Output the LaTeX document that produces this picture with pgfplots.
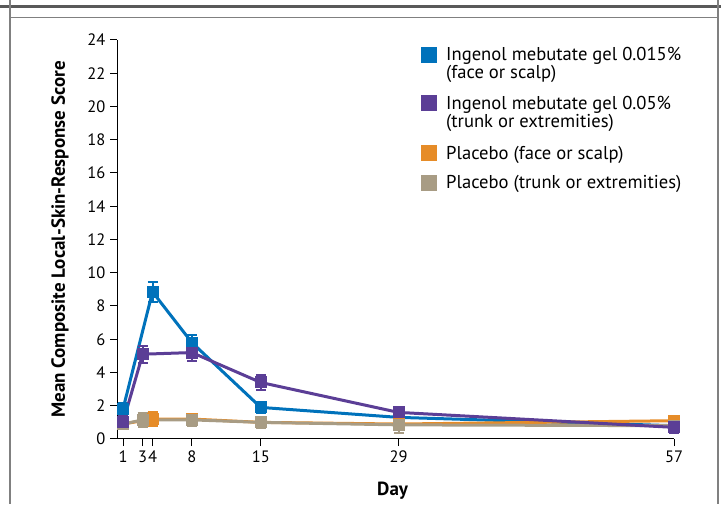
\documentclass[border=0pt]{standalone}
\usepackage{fontspec}
\setmainfont{PT Sans}
\usepackage{pgfplots}
\pgfplotsset{compat=1.18}
\definecolor{cblue}{HTML}{0072BB}
\definecolor{cpurple}{HTML}{5B3E96}
\definecolor{corange}{HTML}{E68C28}
\definecolor{ctan}{HTML}{A89C84}
\definecolor{frame}{HTML}{808080}
\begin{document}
\begin{tikzpicture}[x=1pt,y=1pt]
\useasboundingbox (0,0) rectangle (721,504);
\draw[line width=3pt, color=black!65] (0,497) -- (721,497);
\draw[line width=1.5pt, color=frame] (10,504) -- (10,486.5) -- (718,486.5) -- (718,504);
\draw[line width=1.5pt, color=frame] (10,486.5) -- (10,0);
\draw[line width=1.5pt, color=frame] (718,486.5) -- (718,0);
\begin{axis}[
  at={(117pt,65pt)}, anchor=south west,
  scale only axis, width=557pt, height=399pt,
  xmin=0.39, xmax=57, ymin=0, ymax=24,
  axis lines*=left,
  axis line style={line width=1pt, -},
  tick style={line width=1pt, black},
  tick align=outside,
  major tick length=7pt,
  xtick={1,3,4,8,15,29,57},
  ytick={0,2,...,24},
  /pgf/number format/assume math mode=true,
  ticklabel style={font=\fontsize{16.5}{19}\selectfont},
  xticklabel style={yshift=-1pt},
  yticklabel style={xshift=-1pt},
  xlabel={\textbf{Day}},
  ylabel={\textbf{Mean Composite Local-Skin-Response Score}},
  label style={font=\fontsize{19}{22}\selectfont, inner sep=0pt},
  xlabel style={at={(axis description cs:0.495,0)}, anchor=north, yshift=-43pt},
  ylabel style={at={(axis description cs:0,0.5)}, anchor=base, yshift=52pt},
  clip=false,
  every axis plot/.append style={line width=3pt},
  error bars/error bar style={line width=2pt},
  error bars/error mark options={rotate=90, mark size=5pt, line width=2pt},
]
\addplot+[color=cblue, mark=square*, mark size=5.5pt, mark options={fill=cblue, draw=cblue, line width=0pt},
  error bars/.cd, y dir=both, y explicit]
  table[x=x, y=y, y error=e] {
x y e
1 1.8 0.35
4 8.85 0.6
8 5.8 0.45
15 1.9 0.35
29 1.3 0.2
57 0.8 0.2
};
\addplot+[color=corange, mark=square*, mark size=5.5pt, mark options={fill=corange, draw=corange, line width=0pt},
  error bars/.cd, y dir=both, y explicit]
  table[x=x, y=y, y error=e] {
x y e
1 0.9 0.2
4 1.2 0.4
8 1.2 0.3
15 1.0 0.25
29 0.9 0.3
57 1.1 0.3
};
\addplot+[color=ctan, mark=square*, mark size=5.5pt, mark options={fill=ctan, draw=ctan, line width=0pt},
  error bars/.cd, y dir=both, y explicit]
  table[x=x, y=y, y error=e] {
x y e
1 0.9 0.2
3 1.15 0.4
8 1.15 0.35
15 1.0 0.35
29 0.85 0.5
57 0.8 0.25
};
\addplot+[color=cpurple, mark=square*, mark size=5.5pt, mark options={fill=cpurple, draw=cpurple, line width=0pt},
  error bars/.cd, y dir=both, y explicit]
  table[x=x, y=y, y error=e] {
x y e
1 1.0 0.4
3 5.1 0.5
8 5.2 0.5
15 3.4 0.45
29 1.6 0.3
57 0.7 0.35
};
\end{axis}
\begin{scope}[every node/.style={font=\fontsize{18.6}{21}\selectfont, anchor=base west, inner sep=0pt}]
\fill[cblue] (421,441) rectangle (437,457);
\node at (446,443) {Ingenol mebutate gel 0.015\%};
\node at (446,425) {(face or scalp)};
\fill[cpurple] (421,393) rectangle (437,409);
\node at (446,394) {Ingenol mebutate gel 0.05\%};
\node at (446,376) {(trunk or extremities)};
\fill[corange] (421,343) rectangle (437,359);
\node at (446,344) {Placebo (face or scalp)};
\fill[ctan] (421,313) rectangle (437,329);
\node at (446,315) {Placebo (trunk or extremities)};
\end{scope}
\end{tikzpicture}
\end{document}
